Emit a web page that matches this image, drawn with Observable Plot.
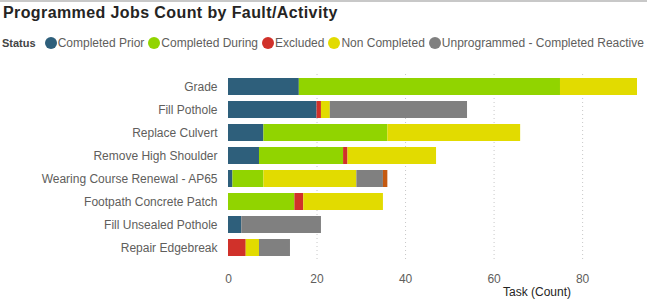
<!DOCTYPE html>
<html>
<head>
<meta charset="utf-8">
<script src="https://cdn.jsdelivr.net/npm/d3@7"></script>
<script src="https://cdn.jsdelivr.net/npm/@observablehq/plot@0.6"></script>
<style>
  html, body { margin: 0; padding: 0; background: #fff; }
  body { width: 647px; height: 302px; position: relative; overflow: hidden; font-family: "Liberation Sans", Arial, sans-serif; }
  #topline { position: absolute; left: 0; top: 0; width: 647px; height: 2px; background: #c8c8c8; }
  #title { position: absolute; left: 3px; top: 4px; font-size: 16px; letter-spacing: 0.4px; font-weight: bold; color: #252423; white-space: nowrap; }
  #legend { position: absolute; left: 2px; top: 34px; width: 645px; height: 18px; white-space: nowrap; font-size: 12px; color: #605e5c; line-height: 18px; }
  #legend .lab { font-weight: bold; font-size: 11px; color: #444; margin-right: 9px; }
  #legend .item { display: inline-block; margin-right: 4px; }
  #legend .dot { display: inline-block; width: 12px; height: 12px; border-radius: 50%; vertical-align: -2px; margin-right: 1px; }
  #chart { position: absolute; left: 0; top: 60px; }
  #xtitle { position: absolute; left: 503px; top: 285px; font-size: 12px; color: #252423; white-space: nowrap; }
</style>
</head>
<body>
<div id="topline"></div>
<div id="title">Programmed Jobs Count by Fault/Activity</div>
<div id="legend"></div>
<div id="chart"></div>
<div id="xtitle">Task (Count)</div>
<script>
const categories = [
  "Grade",
  "Fill Pothole",
  "Replace Culvert",
  "Remove High Shoulder",
  "Wearing Course Renewal - AP65",
  "Footpath Concrete Patch",
  "Fill Unsealed Pothole",
  "Repair Edgebreak"
];
const statuses = [
  "Completed Prior",
  "Completed During",
  "Excluded",
  "Non Completed",
  "Unprogrammed - Completed Reactive",
  "Unprogrammed - Not Completed"
];
// the legend in the reference is cut off after the fifth entry
const legendShown = 5;
const statusColors = ["#2e5f7b", "#91d400", "#d0312a", "#e2db00", "#808080", "#c55a11"];

const completedPrior    = [16, 20, 8, 7, 1, 0, 3, 0];
const completedDuring   = [59, 0, 28, 19, 7, 15, 0, 0];
const excluded          = [0, 1, 0, 1, 0, 2, 0, 4];
const nonCompleted      = [18, 2, 30, 20, 21, 18, 0, 3];
const unprogrammedDone  = [0, 31, 0, 0, 6, 0, 18, 7];
const unprogrammedOther = [0, 0, 0, 0, 1, 0, 0, 0];

const xTicks = [0, 20, 40, 60, 80];

const seriesValues = [completedPrior, completedDuring, excluded, nonCompleted, unprogrammedDone, unprogrammedOther];
const data = [];
categories.forEach((c, i) => {
  statuses.forEach((s, j) => {
    data.push({category: c, status: s, value: seriesValues[j][i]});
  });
});

// legend
const legend = document.getElementById("legend");
const lab = document.createElement("span");
lab.className = "lab";
lab.textContent = "Status";
legend.appendChild(lab);
statuses.slice(0, legendShown).forEach((s, j) => {
  const it = document.createElement("span");
  it.className = "item";
  const dot = document.createElement("span");
  dot.className = "dot";
  dot.style.background = statusColors[j];
  it.appendChild(dot);
  it.appendChild(document.createTextNode(s));
  legend.appendChild(it);
});

const chart = Plot.plot({
  width: 647,
  height: 242,
  marginLeft: 228,
  marginRight: 10,
  marginTop: 14,
  marginBottom: 42,
  style: {fontFamily: "'Liberation Sans', Arial, sans-serif", fontSize: "12px", color: "#605e5c", background: "transparent"},
  x: {domain: [0, 92.4], ticks: xTicks, label: null},
  y: {domain: categories, paddingInner: 0.24, paddingOuter: 0.12, label: null},
  color: {domain: statuses, range: statusColors},
  marks: [
    Plot.gridX(xTicks.filter(d => d > 0), {stroke: "#c8c8c8", strokeOpacity: 1, strokeDasharray: "1,3"}),
    Plot.barX(data, Plot.stackX({x: "value", y: "category", fill: "status", order: statuses, clip: true})),
    Plot.axisX({ticks: xTicks, tickSize: 0, tickPadding: 14, label: null, fill: "#605e5c"}),
    Plot.axisY({tickSize: 0, tickPadding: 11, label: null, fill: "#605e5c"})
  ]
});
document.getElementById("chart").appendChild(chart);
</script>
</body>
</html>
